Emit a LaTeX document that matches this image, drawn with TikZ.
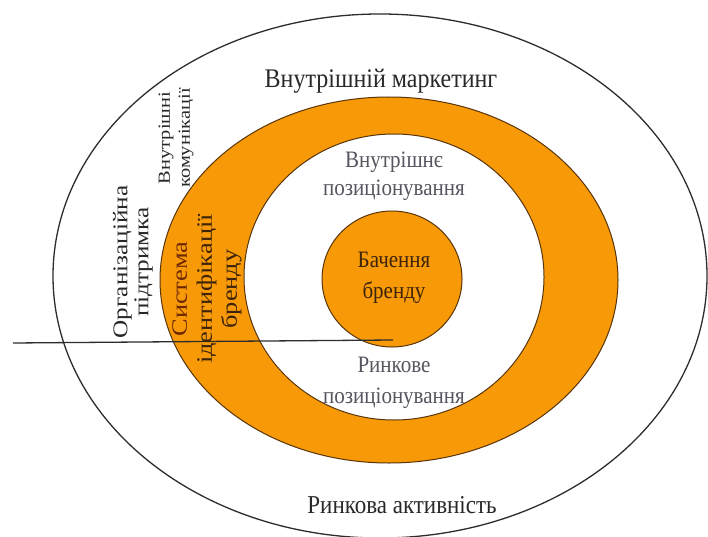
\documentclass[tikz,border=0pt]{standalone}
\usepackage{fontspec}
\setmainfont{Liberation Serif}
\usepackage{graphicx}
\definecolor{ringorange}{RGB}{248,154,8}
\definecolor{ringedge}{RGB}{88,52,8}
\definecolor{outline}{RGB}{45,45,45}
\definecolor{darktext}{RGB}{40,40,40}
\definecolor{greytext}{RGB}{85,85,95}
\definecolor{browntext}{RGB}{60,35,10}
\definecolor{redbrown}{RGB}{110,40,0}
\newcommand\hstr[1]{\scalebox{1}[1.12]{#1}}
\newcommand\vstr[1]{\scalebox{1.2}[1]{#1}}
\begin{document}
\begin{tikzpicture}[x=1pt,y=-1pt,
  ring/.style={draw=ringedge, line width=1pt},
  lbl/.style={inner sep=0pt, align=center},
  vlbl/.style={lbl, rotate=90}]
\useasboundingbox (0,0) rectangle (708,537);
\fill[white] (0,0) rectangle (708,537);
% outer ellipse
\draw[outline, line width=1.3pt] (380,276) ellipse [x radius=327pt, y radius=262pt];
% orange ring
\filldraw[ring, fill=ringorange] (389,280) ellipse [x radius=229pt, y radius=183pt];
\filldraw[ring, fill=white] (394,277) ellipse [x radius=150pt, y radius=143pt];
% inner circle
\filldraw[ring, fill=ringorange] (392,279) ellipse [x radius=70pt, y radius=68pt];
% horizontal line
\coordinate (lineL) at (13,343);
\coordinate (lineR) at (393,340);
\draw[outline, line width=1.3pt] (lineL) -- (lineR);
% labels
\node[lbl, text=darktext, font=\fontsize{24}{28}\selectfont] (im) at (381,81) {\hstr{Внутрішній маркетинг}};
\node[lbl, text=greytext, font=\fontsize{21}{28}\selectfont] (ip) at (394,176) {\hstr{Внутрішнє}\\\hstr{позиціонування}};
\node[lbl, text=browntext, font=\fontsize{21}{31}\selectfont] (bb) at (394,278) {\hstr{Бачення}\\\hstr{бренду}};
\node[lbl, text=greytext, font=\fontsize{21}{31}\selectfont] (rp) at (394,383) {\hstr{Ринкове}\\\hstr{позиціонування}};
\node[lbl, text=darktext, font=\fontsize{23}{28}\selectfont] (ra) at (402,505) {\hstr{Ринкова активність}};
\node[vlbl, text=darktext, font=\fontsize{21}{21}\selectfont] (op) at (133,262) {\vstr{Організаційна}\\\vstr{підтримка}};
\node[vlbl, text=darktext, font=\fontsize{17}{20}\selectfont] (vk) at (176,138) {\vstr{Внутрішні}\\\vstr{комунікації}};
\node[vlbl, text=browntext, font=\fontsize{22}{25}\selectfont] (si) at (207,289) {\vstr{\textcolor{redbrown}{Система}}\\\vstr{ідентифікації}\\\vstr{бренду}};
\end{tikzpicture}
\end{document}
